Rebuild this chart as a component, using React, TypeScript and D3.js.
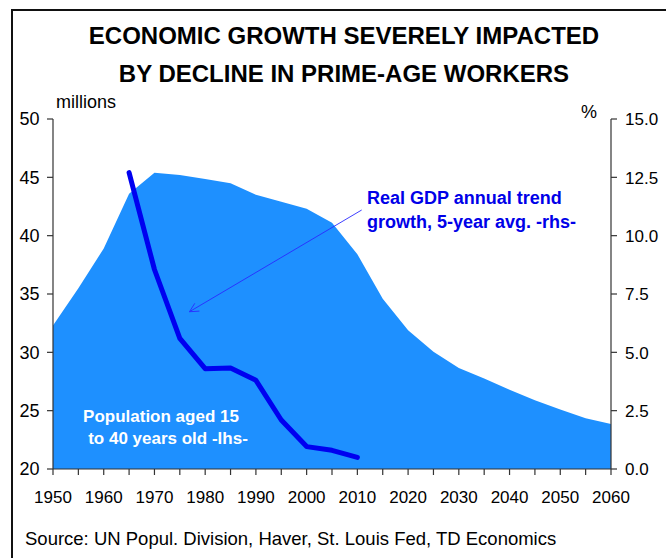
import React from "react";
import * as d3 from "d3";

const years = [1950, 1955, 1960, 1965, 1970, 1975, 1980, 1985, 1990, 1995, 2000, 2005, 2010, 2015, 2020, 2025, 2030, 2035, 2040, 2045, 2050, 2055, 2060];
const population = [32.3, 35.5, 38.9, 43.6, 45.4, 45.2, 44.85, 44.5, 43.5, 42.9, 42.3, 41.1, 38.4, 34.6, 31.9, 30.05, 28.65, 27.75, 26.8, 25.9, 25.1, 24.35, 23.85];
const gdpYears = [1965, 1970, 1975, 1980, 1985, 1990, 1995, 2000, 2005, 2010];
const gdpGrowth = [12.7, 8.55, 5.6, 4.3, 4.33, 3.8, 2.1, 0.96, 0.8, 0.5];
const leftTicks = [20, 25, 30, 35, 40, 45, 50];
const rightTicks = [0, 2.5, 5, 7.5, 10, 12.5, 15];
const xLabelYears = [1950, 1960, 1970, 1980, 1990, 2000, 2010, 2020, 2030, 2040, 2050, 2060];
const xTickYears = d3.range(1950, 2061, 5);
const arrowFrom = { year: 2010.85, value: 11.1 };
const arrowTo = { year: 1976.9, value: 6.74 };

const FONT = "'Liberation Sans', Arial, Helvetica, sans-serif";

export default function App() {
  const W = 666, H = 558;
  const x = d3.scaleLinear().domain([1950, 2060]).range([53, 611]);
  const yL = d3.scaleLinear().domain([20, 50]).range([469, 119]);
  const yR = d3.scaleLinear().domain([0, 15]).range([469, 119]);

  const area = d3.area<number>()
    .x((_, i) => x(years[i]))
    .y0(yL(20))
    .y1((d) => yL(d));
  const line = d3.line<number>()
    .x((_, i) => x(gdpYears[i]))
    .y((d) => yR(d));

  const ax1 = x(arrowFrom.year), ay1 = yR(arrowFrom.value);
  const ax2 = x(arrowTo.year), ay2 = yR(arrowTo.value);
  const ang = Math.atan2(ay1 - ay2, ax1 - ax2);
  const headLen = 10, spread = (27 * Math.PI) / 180;
  const h1 = [ax2 + headLen * Math.cos(ang - spread), ay2 + headLen * Math.sin(ang - spread)];
  const h2 = [ax2 + headLen * Math.cos(ang + spread), ay2 + headLen * Math.sin(ang + spread)];

  const axisColor = "#333";

  return (
    <div style={{ position: "fixed", left: 0, top: 0, width: W, height: H, background: "#fff" }}>
      <svg width={W} height={H} style={{ display: "block", fontFamily: FONT }}>
        <rect x={0} y={0} width={W} height={H} fill="#fff" />
        <rect x={12} y={10} width={W + 20} height={H + 20} fill="none" stroke="#111" strokeWidth={2} />
        <text x={344} y={44} textAnchor="middle" fontSize={24} fontWeight="bold" fill="#000">ECONOMIC GROWTH SEVERELY IMPACTED</text>
        <text x={344} y={82} textAnchor="middle" fontSize={24} fontWeight="bold" fill="#000">BY DECLINE IN PRIME-AGE WORKERS</text>
        <text x={56} y={108} fontSize={18} fill="#000">millions</text>
        <text x={597} y={118} textAnchor="end" fontSize={18} fill="#000">%</text>

        <path d={area(population) || ""} fill="#1e90ff" />
        <path d={line(gdpGrowth) || ""} fill="none" stroke="#0000f0" strokeWidth={5} strokeLinejoin="round" strokeLinecap="round" />

        <line x1={ax1} y1={ay1} x2={ax2} y2={ay2} stroke="#2a2aff" strokeWidth={0.9} />
        <polyline points={`${h1[0]},${h1[1]} ${ax2},${ay2} ${h2[0]},${h2[1]}`} fill="none" stroke="#2a2aff" strokeWidth={0.9} />

        <text x={161} y={422} textAnchor="middle" fontSize={17} fontWeight="bold" fill="#fff">Population aged 15</text>
        <text x={168} y={444} textAnchor="middle" fontSize={17} fontWeight="bold" fill="#fff">to 40 years old -lhs-</text>
        <text x={367} y={204} fontSize={18} fontWeight="bold" fill="#0000e8">Real GDP annual trend</text>
        <text x={367} y={228} fontSize={18} fontWeight="bold" fill="#0000e8">growth, 5-year avg. -rhs-</text>

        <line x1={x(1950)} y1={yL(50)} x2={x(1950)} y2={yL(20)} stroke={axisColor} strokeWidth={1.2} />
        <line x1={x(2060)} y1={yR(15)} x2={x(2060)} y2={yR(0)} stroke={axisColor} strokeWidth={1.2} />
        <line x1={x(1950)} y1={yL(20)} x2={x(2060)} y2={yL(20)} stroke={axisColor} strokeWidth={1.2} />

        {leftTicks.map((t) => (
          <g key={"l" + t}>
            <line x1={x(1950) - 6} x2={x(1950)} y1={yL(t)} y2={yL(t)} stroke={axisColor} strokeWidth={1.2} />
            <text x={39.5} y={yL(t) + 6.4} textAnchor="end" fontSize={18} fill="#000">{t}</text>
          </g>
        ))}
        {rightTicks.map((t) => (
          <g key={"r" + t}>
            <line x1={x(2060)} x2={x(2060) + 6} y1={yR(t)} y2={yR(t)} stroke={axisColor} strokeWidth={1.2} />
            <text x={625} y={yR(t) + 6.2} fontSize={17} fill="#000">{t.toFixed(1)}</text>
          </g>
        ))}
        {xTickYears.map((t) => (
          <line key={"x" + t} x1={x(t)} x2={x(t)} y1={yL(20)} y2={yL(20) + 6} stroke={axisColor} strokeWidth={1.2} />
        ))}
        {xLabelYears.map((t) => (
          <text key={"xl" + t} x={x(t)} y={503} textAnchor="middle" fontSize={17} fill="#000">{t}</text>
        ))}

        <text x={25} y={545} fontSize={18.5} fill="#000">Source: UN Popul. Division, Haver, St. Louis Fed, TD Economics</text>
      </svg>
    </div>
  );
}
